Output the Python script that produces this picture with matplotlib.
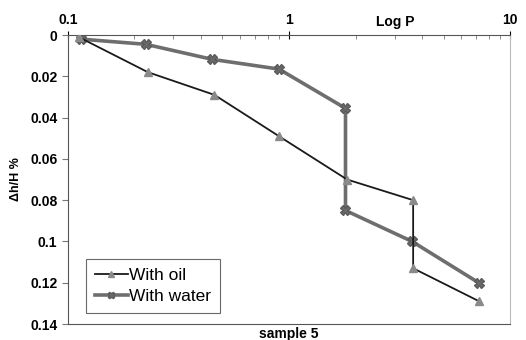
import numpy as np
import matplotlib.pyplot as plt

plt.rcParams['font.family'] = ['Liberation Sans', 'DejaVu Sans']

# data
oil_p = [0.112, 0.23, 0.46, 0.90, 1.83, 3.64, 3.64, 7.24]
oil_dh = [0.001, 0.018, 0.029, 0.049, 0.070, 0.080, 0.113, 0.129]
water_p = [0.115, 0.225, 0.45, 0.90, 1.8, 1.8, 3.6, 7.2]
water_dh = [0.002, 0.0045, 0.0118, 0.0165, 0.0355, 0.085, 0.100, 0.120]
yticks = [0, 0.02, 0.04, 0.06, 0.08, 0.1, 0.12, 0.14]
ytick_labels = ['0', '0.02', '0.04', '0.06', '0.08', '0.1', '0.12', '0.14']

fig = plt.figure(figsize=(5.26, 3.4), dpi=100)
ax = fig.add_axes([0.129, 0.047, 0.841, 0.850])

ax.plot(oil_p, oil_dh, color='#1a1a1a', lw=1.3, marker='^', ms=6,
        mfc='#8a8a8a', mec='#8a8a8a', label='With oil', zorder=3)
ax.plot(water_p, water_dh, color='#6e6e6e', lw=2.6, marker='X', ms=7,
        mfc='#6a6a6a', mec='#5a5a5a', label='With water', zorder=2)

ax.set_xscale('log')
ax.set_xlim(0.1, 10)
ax.set_ylim(0.14, 0)
ax.xaxis.tick_top()
ax.set_xticks([0.1, 1, 10])
ax.set_xticklabels(['0.1', '1', '10'], fontweight='bold')
ax.tick_params(axis='x', which='major', direction='inout', length=6, pad=3, labelsize=10)
ax.tick_params(axis='x', which='minor', direction='in', length=3, color='#777777')
ax.set_yticks(yticks)
ax.set_yticklabels(ytick_labels, fontweight='bold')
ax.tick_params(axis='y', direction='out', length=4, labelsize=10, color='#777777')

for s in ax.spines.values():
    s.set_color('#555555')
ax.spines['right'].set_color('#bbbbbb')

ax.text(0.74, 1.02, 'Log P', transform=ax.transAxes, ha='center', va='bottom',
        fontsize=10, fontweight='bold')
ax.set_ylabel('\u0394h/H %', fontsize=9, fontweight='bold', labelpad=6)
ax.set_xlabel('sample 5', fontsize=10, fontweight='bold', labelpad=2)
ax.xaxis.set_label_position('bottom')

leg = ax.legend(loc='lower left', bbox_to_anchor=(0.041, 0.038), borderaxespad=0,
                fontsize=12.5, frameon=True, fancybox=False, edgecolor='#444444',
                handlelength=1.9, handletextpad=0.1, borderpad=0.5, labelspacing=0.35,
                markerscale=0.7)
leg.get_frame().set_linewidth(0.8)

fig.savefig('out.png', dpi=100)
